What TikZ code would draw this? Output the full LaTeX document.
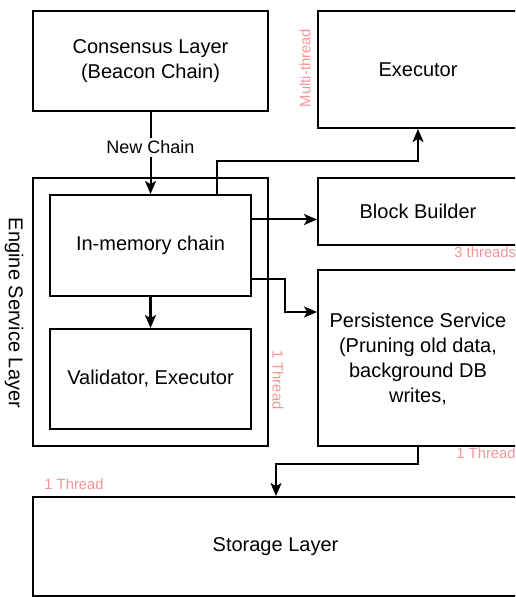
\documentclass[tikz,border=0pt]{standalone}
\usepackage{fontspec}
\setmainfont{Liberation Sans}
\definecolor{note}{RGB}{244,150,150}
\usetikzlibrary{
	arrows.meta,
	positioning,
	calc
}
\tikzset{
  % arrow
	cstra/.style      ={-{Stealth[length=6.5pt,width=5.5pt,inset=1.6pt]}, line width=1pt},
	cstmra/.style     ={-{Stealth[length=6.5pt,width=5.5pt,inset=1.6pt]}, line width=1.5pt},
  % node
	cstbox/.style     ={draw=black,fill=white,line width=1pt,inner sep=0pt,align=center,
	                    font=\fontsize{10}{12.5}\selectfont},
	cstnote/.style    ={text=note,inner sep=0pt,font=\fontsize{7.4}{9}\selectfont},
	cstlabel/.style   ={fill=white,inner sep=1.5pt,font=\fontsize{9}{11}\selectfont}
}

\begin{document}
\begin{tikzpicture}[x=0.5pt,y=-0.5pt]
	\useasboundingbox[fill=white] (0,0) rectangle (515,597);
	\clip (0,0) rectangle (515,597);
	% left column
	\node[cstbox,minimum width=117.5pt,minimum height=50pt] (consensus) at (150.5,61) {Consensus Layer\\(Beacon Chain)};
	\node[cstbox,minimum width=117.5pt,minimum height=134pt] (engine) at (150.5,312) {};
	\node[cstbox,minimum width=100.5pt,minimum height=50.5pt] (inmem) at (150.5,245.5) {In-memory chain};
	\node[cstbox,minimum width=100.5pt,minimum height=50pt] (validator) at (150.5,379) {Validator, Executor};
	% right column
	\node[cstbox,minimum width=100pt,minimum height=58.5pt] (executor) at (418,69.5) {Executor};
	\node[cstbox,minimum width=100pt,minimum height=33.5pt] (builder) at (418,211.5) {Block Builder};
	\node[cstbox,minimum width=100pt,minimum height=88pt,text depth=-1.5pt] (persist) at (418,358) {Persistence Service\\(Pruning old data,\\background DB\\writes,};
	% bottom
	\node[cstbox,minimum width=242.5pt,minimum height=49.5pt] (storage) at (275.5,546.5) {Storage Layer};

	\node[rotate=-90,font=\fontsize{10}{12}\selectfont] (enginelabel) at (14,313) {Engine Service Layer};

	% threads
	\node[cstnote,rotate=90] (execnote) at (305,68) {Multi-thread};
	\node[cstnote,rotate=-90] (enginenote) at (278,380) {1 Thread};
	\node[cstnote,anchor=west] (buildnote) at (454,252) {3 threads};
	\node[cstnote,anchor=west] (persistnote) at (456,453) {1 Thread};
	\node[cstnote,anchor=west] (storenote) at (44,484) {1 Thread};

	% connectors
	\draw[cstra] (consensus) -- node[cstlabel,pos=0.43] {New Chain} (inmem);
	\draw[cstra] ([xshift=33.25pt]inmem.north) -- ++(0,-33) -| (executor.south);
	\path ([yshift=13pt]inmem.east) coordinate (tobuild);
	\draw[cstra] (tobuild) -- (tobuild -| builder.west);
	\draw[cstra] ([yshift=-16.75pt]inmem.east) -- ++(33,0) |- ([yshift=23pt]persist.west);
	\draw[cstmra] (inmem) -- (validator);
	\draw[cstra] (persist.south) -- ++(0,17) -| ([xshift=0.25pt]storage.north);
\end{tikzpicture}
\end{document}
